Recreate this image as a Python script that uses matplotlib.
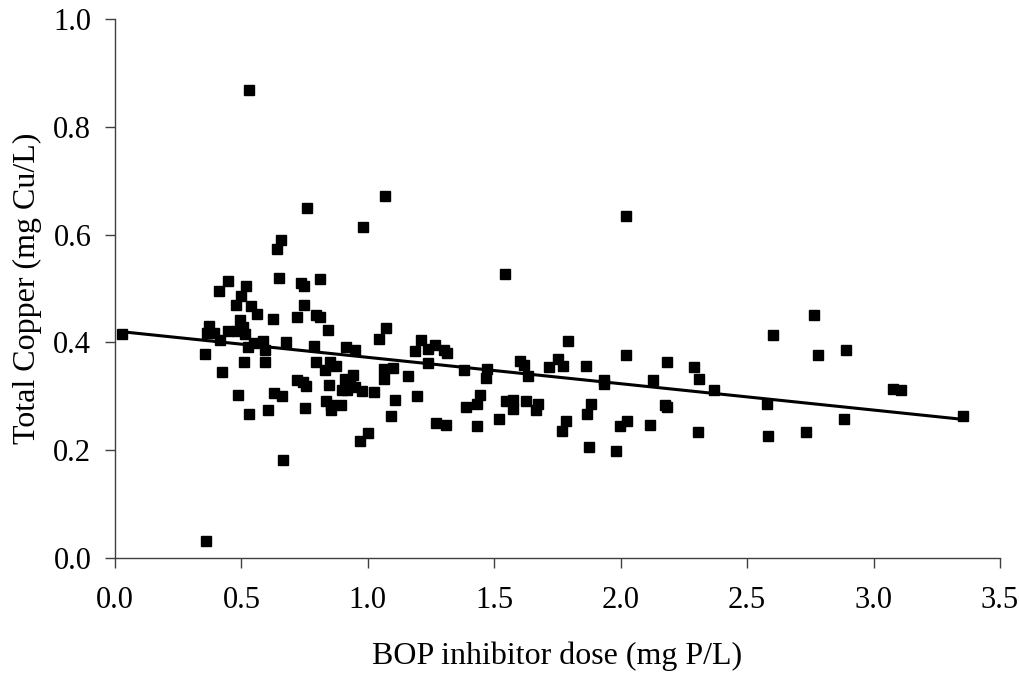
import numpy as np
import matplotlib
matplotlib.use('Agg')
import matplotlib.pyplot as plt
from matplotlib.ticker import FormatStrFormatter

# BOP inhibitor dose (mg P/L)
dose = [
    0.026, 0.359, 0.357, 0.363, 0.372, 0.392, 0.410, 0.415, 0.423, 0.447,
    0.448, 0.477, 0.481, 0.487, 0.493, 0.497, 0.508, 0.509, 0.514, 0.518,
    0.527, 0.530, 0.531, 0.537, 0.550, 0.563, 0.584, 0.593, 0.595, 0.605,
    0.624, 0.629, 0.642, 0.647, 0.658, 0.662, 0.663, 0.675, 0.718, 0.719,
    0.734, 0.745, 0.748, 0.748, 0.750, 0.756, 0.758, 0.787, 0.794, 0.795,
    0.810, 0.811, 0.832, 0.833, 0.843, 0.845, 0.850, 0.856, 0.856, 0.874,
    0.893, 0.898, 0.910, 0.914, 0.917, 0.930, 0.943, 0.948, 0.949, 0.968,
    0.976, 0.982, 1.001, 1.025, 1.044, 1.065, 1.065, 1.069, 1.072, 1.092,
    1.098, 1.106, 1.159, 1.185, 1.193, 1.210, 1.236, 1.238, 1.267, 1.270,
    1.301, 1.309, 1.312, 1.380, 1.388, 1.430, 1.430, 1.444, 1.466, 1.470,
    1.517, 1.544, 1.545, 1.576, 1.576, 1.603, 1.619, 1.626, 1.632, 1.665,
    1.671, 1.715, 1.754, 1.767, 1.773, 1.783, 1.791, 1.863, 1.866, 1.876,
    1.882, 1.932, 1.932, 1.982, 1.998, 2.021, 2.021, 2.024, 2.114, 2.128,
    2.177, 2.182, 2.182, 2.290, 2.307, 2.310, 2.369, 2.579, 2.582, 2.601,
    2.732, 2.765, 2.780, 2.883, 2.889, 3.076, 3.109, 3.352,
]

# Total copper (mg Cu/L)
copper = [
    0.416, 0.031, 0.378, 0.417, 0.431, 0.417, 0.496, 0.404, 0.345, 0.513,
    0.422, 0.469, 0.421, 0.302, 0.442, 0.486, 0.428, 0.364, 0.416, 0.505,
    0.391, 0.268, 0.868, 0.467, 0.399, 0.452, 0.402, 0.364, 0.385, 0.275,
    0.443, 0.307, 0.573, 0.519, 0.590, 0.301, 0.181, 0.400, 0.447, 0.331,
    0.510, 0.326, 0.504, 0.469, 0.278, 0.319, 0.649, 0.394, 0.363, 0.450,
    0.517, 0.447, 0.348, 0.291, 0.423, 0.321, 0.363, 0.283, 0.274, 0.357,
    0.283, 0.311, 0.333, 0.391, 0.311, 0.325, 0.339, 0.386, 0.317, 0.217,
    0.309, 0.615, 0.231, 0.308, 0.406, 0.351, 0.333, 0.671, 0.426, 0.263,
    0.352, 0.294, 0.338, 0.384, 0.301, 0.404, 0.388, 0.362, 0.396, 0.251,
    0.385, 0.246, 0.380, 0.348, 0.280, 0.285, 0.244, 0.303, 0.334, 0.351,
    0.258, 0.527, 0.291, 0.293, 0.277, 0.365, 0.359, 0.291, 0.338, 0.274,
    0.286, 0.354, 0.369, 0.235, 0.357, 0.254, 0.402, 0.357, 0.268, 0.206,
    0.286, 0.330, 0.322, 0.198, 0.244, 0.635, 0.376, 0.254, 0.246, 0.330,
    0.283, 0.280, 0.364, 0.355, 0.234, 0.333, 0.312, 0.286, 0.227, 0.414,
    0.233, 0.451, 0.377, 0.258, 0.386, 0.314, 0.312, 0.264,
]

x_ticks = [0.0, 0.5, 1.0, 1.5, 2.0, 2.5, 3.0, 3.5]
y_ticks = [0.0, 0.2, 0.4, 0.6, 0.8, 1.0]

plt.rcParams['font.family'] = ['Liberation Serif', 'DejaVu Serif']

fig = plt.figure(figsize=(10.2, 6.74), dpi=100)
ax = fig.add_axes([0.1127, 0.1721, 0.8677, 0.7997])

# scatter of all samples
ax.plot(dose, copper, 's', color='black', markersize=7.2, linestyle='none')

# linear trendline (least squares)
xs = np.array(dose)
p = np.polyfit(xs, np.array(copper), 1)
xl = np.array([xs.min(), xs.max()])
ax.plot(xl, np.polyval(p, xl), color='black', linewidth=2.2)

ax.set_xlim(0, 3.5)
ax.set_ylim(0, 1.0)
ax.set_xticks(x_ticks)
ax.set_yticks(y_ticks)
ax.xaxis.set_major_formatter(FormatStrFormatter('%.1f'))
ax.yaxis.set_major_formatter(FormatStrFormatter('%.1f'))

for s in ['top', 'right']:
    ax.spines[s].set_visible(False)
for s in ['left', 'bottom']:
    ax.spines[s].set_color('#404040')
    ax.spines[s].set_linewidth(1.0)

ax.tick_params(direction='out', length=7, width=1.0, color='#404040',
               labelsize=22, pad=10)
ax.tick_params(axis='x', pad=13)

ax.set_xlabel('BOP inhibitor dose (mg P/L)', fontsize=23, labelpad=19)
ax.set_ylabel('Total Copper (mg Cu/L)', fontsize=23, labelpad=8)

fig.savefig('out.png', dpi=100)
